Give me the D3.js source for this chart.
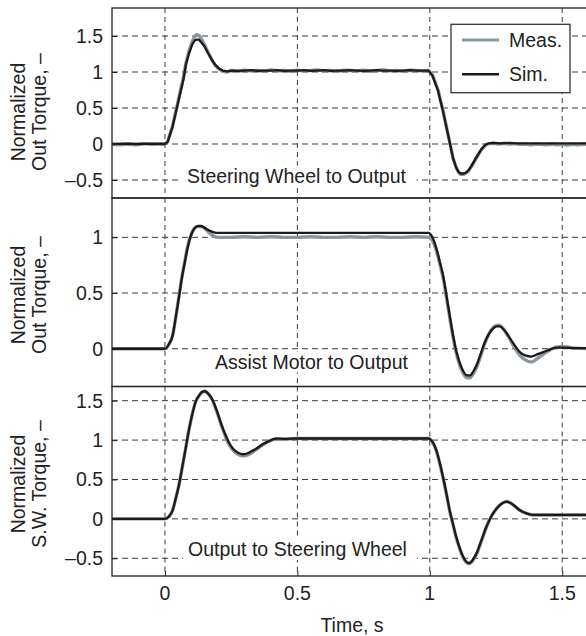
<!DOCTYPE html>
<html>
<head>
<meta charset="utf-8">
<script src="https://cdn.jsdelivr.net/npm/d3@7"></script>
<style>
  html, body { margin: 0; padding: 0; background: #fff; }
  svg { display: block; }
  text { font-family: "Liberation Sans", Arial, Helvetica, sans-serif; fill: #222; }
</style>
</head>
<body>
<svg id="chart" width="586" height="636"></svg>
<script>
// ---- data ----------------------------------------------------------------
const timeDomain = [-0.2, 1.6];
const timeTicks = [0, 0.5, 1, 1.5];
const timeTickLabels = ["0", "0.5", "1", "1.5"];

const panelTitles = ["Steering Wheel to Output", "Assist Motor to Output", "Output to Steering Wheel"];
const panelYLabels = [["Normalized", "Out Torque, –"], ["Normalized", "Out Torque, –"], ["Normalized", "S.W. Torque, –"]];
const panelYDomains = [[-0.75, 1.889], [-0.339, 1.353], [-0.725, 1.68]];
const panelYTicks = [[-0.5, 0, 0.5, 1, 1.5], [0, 0.5, 1], [-0.5, 0, 0.5, 1, 1.5]];
const panelYTickLabels = [["–0.5", "0", "0.5", "1", "1.5"], ["0", "0.5", "1"], ["–0.5", "0", "0.5", "1", "1.5"]];

const seriesNames = ["Meas.", "Sim."];

// Steering wheel -> output, measured
const swMeas = [
  [-0.2, -0.005], [-0.17, -0.01], [-0.14, 0.0], [-0.11, -0.01], [-0.08, 0.005], [-0.05, -0.005], [-0.02, 0.0], [0.0, 0.0],
  [0.01, 0.03], [0.028, 0.24], [0.045, 0.52], [0.06, 0.77], [0.07, 0.93], [0.079, 1.12], [0.09, 1.28], [0.104, 1.43],
  [0.113, 1.5], [0.12, 1.52], [0.128, 1.51], [0.138, 1.46], [0.15, 1.37], [0.163, 1.27], [0.177, 1.17], [0.19, 1.09],
  [0.204, 1.04], [0.218, 1.01], [0.235, 1.0], [0.25, 1.02], [0.275, 1.01], [0.3, 1.025], [0.325, 1.015], [0.35, 1.02],
  [0.375, 1.01], [0.4, 1.03], [0.425, 1.015], [0.45, 1.02], [0.475, 1.01], [0.5, 1.025], [0.525, 1.015], [0.55, 1.02],
  [0.575, 1.03], [0.6, 1.015], [0.625, 1.02], [0.65, 1.01], [0.675, 1.025], [0.7, 1.02], [0.725, 1.015], [0.75, 1.025],
  [0.775, 1.01], [0.8, 1.02], [0.825, 1.03], [0.85, 1.015], [0.875, 1.02], [0.9, 1.01], [0.925, 1.025], [0.95, 1.02],
  [0.975, 1.015], [0.995, 1.02], [1.01, 0.96], [1.031, 0.75], [1.05, 0.46], [1.069, 0.13], [1.088, -0.2], [1.1, -0.33],
  [1.107, -0.38], [1.115, -0.42], [1.125, -0.42], [1.135, -0.41], [1.145, -0.38], [1.158, -0.31], [1.17, -0.23],
  [1.183, -0.15], [1.195, -0.08], [1.21, -0.02], [1.222, 0.005], [1.24, 0.01], [1.26, 0.0], [1.28, 0.01], [1.3, 0.0],
  [1.32, 0.005], [1.34, -0.005], [1.36, 0.0], [1.38, -0.01], [1.4, 0.0], [1.42, -0.005], [1.44, -0.01], [1.46, 0.0],
  [1.48, -0.01], [1.5, -0.005], [1.52, -0.015], [1.54, -0.005], [1.56, -0.01], [1.58, 0.0], [1.6, -0.005]
];
// Steering wheel -> output, simulated
const swSim = [
  [-0.2, 0.0], [-0.15, 0.005], [-0.1, 0.0], [-0.05, 0.005], [0.0, 0.0],
  [0.01, 0.03], [0.028, 0.23], [0.045, 0.5], [0.06, 0.74], [0.07, 0.9], [0.079, 1.1], [0.09, 1.25], [0.104, 1.39],
  [0.113, 1.44], [0.12, 1.45], [0.128, 1.45], [0.138, 1.41], [0.15, 1.35], [0.163, 1.26], [0.177, 1.17], [0.19, 1.1],
  [0.204, 1.05], [0.218, 1.02], [0.235, 1.01], [0.25, 1.02], [0.275, 1.015], [0.3, 1.02], [0.325, 1.025], [0.35, 1.015],
  [0.375, 1.02], [0.4, 1.02], [0.425, 1.025], [0.45, 1.015], [0.475, 1.02], [0.5, 1.02], [0.525, 1.025], [0.55, 1.015],
  [0.575, 1.02], [0.6, 1.025], [0.625, 1.015], [0.65, 1.02], [0.675, 1.02], [0.7, 1.025], [0.725, 1.02], [0.75, 1.015],
  [0.775, 1.02], [0.8, 1.025], [0.825, 1.02], [0.85, 1.02], [0.875, 1.015], [0.9, 1.02], [0.925, 1.025], [0.95, 1.02],
  [0.975, 1.02], [0.995, 1.02], [1.01, 0.95], [1.031, 0.74], [1.05, 0.45], [1.069, 0.13], [1.088, -0.2], [1.1, -0.33],
  [1.107, -0.38], [1.115, -0.41], [1.125, -0.41], [1.135, -0.4], [1.145, -0.37], [1.158, -0.3], [1.17, -0.22],
  [1.183, -0.14], [1.195, -0.07], [1.21, -0.01], [1.222, 0.01], [1.24, 0.015], [1.27, 0.01], [1.3, 0.015], [1.33, 0.01],
  [1.36, 0.01], [1.4, 0.01], [1.44, 0.01], [1.48, 0.01], [1.52, 0.01], [1.56, 0.01], [1.6, 0.01]
];

// Assist motor -> output, measured
const amMeas = [
  [-0.2, 0.0], [-0.1, 0.0], [0.0, 0.0], [0.015, 0.04], [0.029, 0.12], [0.04, 0.27], [0.054, 0.49], [0.065, 0.66],
  [0.073, 0.76], [0.085, 0.91], [0.1, 1.03], [0.111, 1.08], [0.125, 1.1], [0.136, 1.1], [0.15, 1.08], [0.168, 1.04],
  [0.185, 1.01], [0.2, 1.0], [0.25, 1.0], [0.3, 1.005], [0.35, 1.0], [0.4, 1.005], [0.45, 1.0], [0.5, 1.0],
  [0.55, 1.005], [0.6, 1.0], [0.65, 1.0], [0.7, 1.005], [0.75, 1.0], [0.8, 1.005], [0.85, 1.0], [0.9, 1.0],
  [0.95, 1.005], [0.995, 1.0], [1.01, 0.97], [1.025, 0.88], [1.04, 0.74], [1.05, 0.64], [1.069, 0.37], [1.088, 0.1],
  [1.1, -0.04], [1.107, -0.1], [1.126, -0.22], [1.14, -0.26], [1.151, -0.26], [1.165, -0.22], [1.176, -0.17],
  [1.19, -0.08], [1.208, 0.05], [1.225, 0.14], [1.239, 0.19], [1.252, 0.21], [1.264, 0.21], [1.28, 0.17], [1.296, 0.11],
  [1.315, 0.03], [1.34, -0.06], [1.36, -0.1], [1.384, -0.12], [1.405, -0.09], [1.428, -0.05], [1.455, -0.01],
  [1.479, 0.015], [1.5, 0.02], [1.52, 0.015], [1.55, 0.005], [1.6, 0.0]
];
// Assist motor -> output, simulated
const amSim = [
  [-0.2, 0.0], [-0.1, 0.0], [0.0, 0.0], [0.015, 0.04], [0.029, 0.12], [0.04, 0.27], [0.054, 0.48], [0.065, 0.65],
  [0.073, 0.75], [0.085, 0.9], [0.1, 1.03], [0.111, 1.08], [0.125, 1.1], [0.136, 1.1], [0.15, 1.085], [0.168, 1.06],
  [0.185, 1.045], [0.2, 1.04], [0.3, 1.04], [0.4, 1.04], [0.5, 1.04], [0.6, 1.04], [0.7, 1.04], [0.8, 1.04],
  [0.9, 1.04], [0.995, 1.04], [1.01, 1.0], [1.025, 0.9], [1.04, 0.76], [1.05, 0.66], [1.069, 0.39], [1.088, 0.12],
  [1.1, -0.02], [1.107, -0.08], [1.126, -0.2], [1.14, -0.24], [1.151, -0.24], [1.165, -0.2], [1.176, -0.15],
  [1.19, -0.06], [1.208, 0.06], [1.225, 0.14], [1.239, 0.18], [1.252, 0.2], [1.264, 0.2], [1.28, 0.17], [1.296, 0.12],
  [1.315, 0.05], [1.34, -0.03], [1.36, -0.06], [1.384, -0.07], [1.405, -0.05], [1.428, -0.03], [1.455, -0.005],
  [1.479, 0.01], [1.5, 0.01], [1.55, 0.005], [1.6, 0.005]
];

// Output -> steering wheel, measured
const owMeas = [
  [-0.2, 0.0], [-0.1, 0.0], [0.0, 0.0], [0.015, 0.03], [0.029, 0.11], [0.04, 0.25], [0.054, 0.45], [0.065, 0.65],
  [0.079, 0.91], [0.09, 1.12], [0.104, 1.34], [0.115, 1.48], [0.13, 1.57], [0.14, 1.61], [0.151, 1.62], [0.163, 1.59],
  [0.18, 1.5], [0.195, 1.37], [0.212, 1.2], [0.228, 1.05], [0.243, 0.94], [0.26, 0.86], [0.278, 0.815], [0.294, 0.8],
  [0.31, 0.81], [0.328, 0.84], [0.344, 0.88], [0.37, 0.94], [0.395, 0.99], [0.42, 1.01], [0.45, 1.01], [0.5, 1.02],
  [0.6, 1.02], [0.7, 1.02], [0.8, 1.02], [0.9, 1.02], [0.995, 1.02], [1.01, 0.97], [1.025, 0.86], [1.037, 0.71],
  [1.05, 0.52], [1.063, 0.31], [1.075, 0.1], [1.088, -0.08], [1.1, -0.24], [1.113, -0.38], [1.126, -0.49],
  [1.137, -0.55], [1.148, -0.57], [1.16, -0.54], [1.176, -0.45], [1.195, -0.28], [1.214, -0.1], [1.232, 0.03],
  [1.252, 0.13], [1.27, 0.19], [1.29, 0.22], [1.31, 0.19], [1.34, 0.11], [1.365, 0.07], [1.39, 0.05], [1.5, 0.05],
  [1.6, 0.05]
];
// Output -> steering wheel, simulated
const owSim = [
  [-0.2, 0.0], [-0.1, 0.0], [0.0, 0.0], [0.015, 0.03], [0.029, 0.11], [0.04, 0.25], [0.054, 0.45], [0.065, 0.65],
  [0.079, 0.91], [0.09, 1.12], [0.104, 1.34], [0.115, 1.48], [0.13, 1.57], [0.14, 1.61], [0.151, 1.62], [0.163, 1.59],
  [0.18, 1.51], [0.195, 1.38], [0.212, 1.21], [0.228, 1.07], [0.243, 0.96], [0.26, 0.88], [0.278, 0.835], [0.294, 0.82],
  [0.31, 0.83], [0.328, 0.86], [0.344, 0.89], [0.37, 0.95], [0.395, 0.99], [0.42, 1.02], [0.45, 1.015], [0.5, 1.02],
  [0.6, 1.02], [0.7, 1.02], [0.8, 1.02], [0.9, 1.02], [0.995, 1.02], [1.01, 0.98], [1.025, 0.87], [1.037, 0.72],
  [1.05, 0.53], [1.063, 0.32], [1.075, 0.11], [1.088, -0.07], [1.1, -0.23], [1.113, -0.37], [1.126, -0.48],
  [1.137, -0.54], [1.148, -0.56], [1.16, -0.53], [1.176, -0.44], [1.195, -0.27], [1.214, -0.1], [1.232, 0.03],
  [1.252, 0.13], [1.27, 0.19], [1.29, 0.22], [1.31, 0.19], [1.34, 0.11], [1.365, 0.07], [1.39, 0.05], [1.5, 0.05],
  [1.6, 0.05]
];

const panelSeries = [[swMeas, swSim], [amMeas, amSim], [owMeas, owSim]];

// ---- layout & styles -----------------------------------------------------
const plotLeft = 112, plotRight = 588.7;
const panelBounds = [[8, 198], [198, 386.5], [386.5, 576]];
const titleX = [187, 215, 188];
const titleBaselineFromBottom = [15.3, 18, 20];
const yLabelCenter = [112, 295, 484];
const seriesColors = ["#8b959c", "#1b1b1b"];
const seriesWidths = [3.4, 2.3];
const fontSize = 19.5;
const gridColor = "#3a3a3a";

const svg = d3.select("#chart");
const x = d3.scaleLinear().domain(timeDomain).range([plotLeft, plotRight]);

panelBounds.forEach(([top, bottom], i) => {
  const y = d3.scaleLinear().domain(panelYDomains[i]).range([bottom, top]);
  const g = svg.append("g");
  const clipId = "clip-" + i;
  g.append("clipPath").attr("id", clipId)
    .append("rect").attr("x", plotLeft).attr("y", top).attr("width", plotRight - plotLeft).attr("height", bottom - top);

  // dashed grid
  const grid = g.append("g").attr("clip-path", `url(#${clipId})`);
  grid.selectAll("line.h").data(panelYTicks[i]).join("line")
    .attr("x1", plotLeft).attr("x2", plotRight)
    .attr("y1", d => y(d)).attr("y2", d => y(d))
    .attr("stroke", gridColor).attr("stroke-width", 1).attr("stroke-dasharray", "6,4");
  grid.selectAll("line.v").data(timeTicks).join("line")
    .attr("x1", d => x(d)).attr("x2", d => x(d))
    .attr("y1", top).attr("y2", bottom)
    .attr("stroke", gridColor).attr("stroke-width", 1).attr("stroke-dasharray", "5,4");

  // panel caption with white backing
  const cap = g.append("text")
    .attr("x", titleX[i]).attr("y", bottom - titleBaselineFromBottom[i])
    .attr("font-size", fontSize).text(panelTitles[i]);
  const bb = cap.node().getBBox();
  g.insert("rect", "text")
    .attr("x", bb.x - 5).attr("y", bb.y + 1).attr("width", bb.width + 15).attr("height", bb.height - 1)
    .attr("fill", "#fff");

  // curves
  const line = d3.line().x(d => x(d[0])).y(d => y(d[1]))
    .curve(i === 0 ? d3.curveLinear : d3.curveMonotoneX);
  const curves = g.append("g").attr("clip-path", `url(#${clipId})`);
  panelSeries[i].forEach((s, k) => {
    curves.append("path").datum(s).attr("d", line)
      .attr("fill", "none").attr("stroke", seriesColors[k]).attr("stroke-width", seriesWidths[k])
      .attr("stroke-linejoin", "round").attr("stroke-linecap", "round");
  });

  // left axis with inward ticks
  const yAxis = d3.axisRight(y).tickValues(panelYTicks[i]).tickSize(5).tickFormat("");
  const ax = g.append("g").attr("transform", `translate(${plotLeft},0)`).call(yAxis);
  ax.select(".domain").remove();
  ax.selectAll("line").attr("stroke", "#222");

  g.selectAll("text.ytick").data(panelYTicks[i]).join("text")
    .attr("class", "ytick")
    .attr("x", 103).attr("y", d => y(d) + 7)
    .attr("text-anchor", "end").attr("font-size", fontSize)
    .text((d, j) => panelYTickLabels[i][j]);

  // frame
  g.append("rect").attr("x", plotLeft).attr("y", top)
    .attr("width", plotRight - plotLeft).attr("height", bottom - top)
    .attr("fill", "none").attr("stroke", "#222").attr("stroke-width", 1.3);

  // y label (two lines)
  const lab = svg.append("g").attr("transform", `translate(0,${yLabelCenter[i]})`);
  panelYLabels[i].forEach((t, k) => {
    lab.append("text")
      .attr("transform", `translate(${24.5 + k * 21.5},0) rotate(-90)`)
      .attr("text-anchor", "middle").attr("font-size", fontSize)
      .text(t);
  });
});

// time axis
const xb = panelBounds[2][1];
const xAxis = d3.axisTop(x).tickValues(timeTicks).tickSize(5).tickFormat("");
const xa = svg.append("g").attr("transform", `translate(0,${xb})`).call(xAxis);
xa.select(".domain").remove();
xa.selectAll("line").attr("stroke", "#222");
svg.selectAll("text.xtick").data(timeTicks).join("text")
  .attr("class", "xtick")
  .attr("x", d => x(d)).attr("y", 599.5)
  .attr("text-anchor", "middle").attr("font-size", fontSize)
  .text((d, j) => timeTickLabels[j]);
svg.append("text").attr("x", 352).attr("y", 631.5)
  .attr("text-anchor", "middle").attr("font-size", fontSize).text("Time, s");

// legend
const lg = svg.append("g");
lg.append("rect").attr("x", 451).attr("y", 24.3).attr("width", 119).attr("height", 68.4)
  .attr("fill", "#fff").attr("stroke", "#333").attr("stroke-width", 1.3);
seriesNames.forEach((name, k) => {
  const ly = 40 + k * 34.3;
  lg.append("line").attr("x1", 462).attr("x2", 499).attr("y1", ly).attr("y2", ly)
    .attr("stroke", seriesColors[k]).attr("stroke-width", k === 0 ? 3 : 2.6);
  lg.append("text").attr("x", 509).attr("y", ly + 7).attr("font-size", fontSize).text(name);
});
</script>
</body>
</html>
